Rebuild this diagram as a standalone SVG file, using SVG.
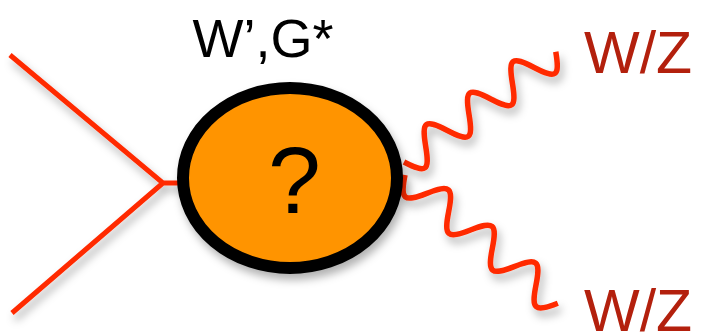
<svg xmlns="http://www.w3.org/2000/svg" width="703" height="334" viewBox="0 0 703 334">
<defs>
<filter id="sh" x="-20%" y="-20%" width="140%" height="140%">
<feDropShadow dx="3" dy="6" stdDeviation="4" flood-color="#000" flood-opacity="0.3"/>
</filter>
<style>
.line{fill:none;stroke:#ff2a00;stroke-width:5;stroke-linecap:butt;stroke-linejoin:miter}
.wave{fill:none;stroke:#ff2a00;stroke-width:5.5;stroke-linecap:butt}
.lbl{font-family:"Liberation Sans",Arial,sans-serif;fill:#000}
.out{font-family:"Liberation Sans",Arial,sans-serif;fill:#b3200d;font-size:59px}
</style>
</defs>
<rect width="703" height="334" fill="#fff"/>
<g id="connectors" filter="url(#sh)">
<path class="line" d="M10,55 L163,183 L12,313 M163,183 L182,183"/>
<path class="wave" transform="translate(404,162) rotate(-36)" d="M0,0 c11.37,22.7 15.43,22.7 26.8,0 s15.43,-22.7 26.8,0 s15.43,22.7 26.8,0 s15.43,-22.7 26.8,0 s15.43,22.7 26.8,0 s15.43,-22.7 26.8,0 s15.43,22.7 26.8,0"/>
<path class="wave" transform="translate(405,175) rotate(40)" d="M0,0 c12.1,22 16.4,22 28.5,0 s16.4,-22 28.5,0 s16.4,22 28.5,0 s16.4,-22 28.5,0 s16.4,22 28.5,0 s16.4,-22 28.5,0 s16.4,22 28.5,0"/>
</g>
<g id="node-resonance">
<ellipse cx="290" cy="178" rx="107" ry="90" fill="#ff9400" stroke="#000" stroke-width="12" filter="url(#sh)"/>
<text class="lbl" x="294.5" y="213" font-size="95" text-anchor="middle">?</text>
</g>
<g id="label-resonance">
<text class="lbl" x="263" y="57" font-size="54" text-anchor="middle">W’,G*</text>
</g>
<g id="node-wz-top">
<text class="out" x="584" y="73">W/Z</text>
</g>
<g id="node-wz-bottom">
<text class="out" x="584" y="331">W/Z</text>
</g>
</svg>
